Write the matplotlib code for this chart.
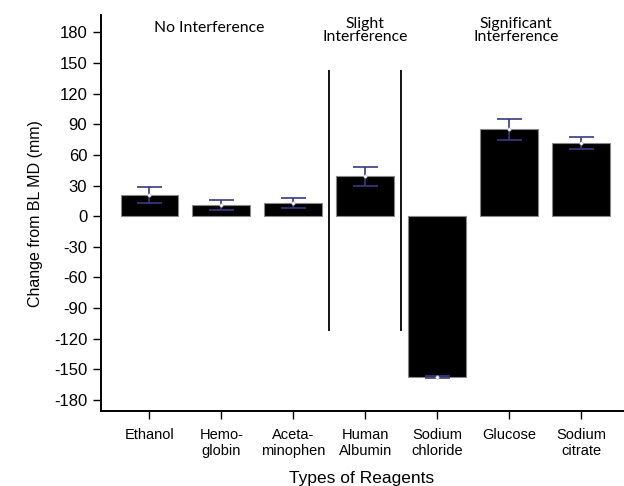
import numpy as np
import matplotlib.pyplot as plt

categories = ['Ethanol', 'Hemo-\nglobin', 'Aceta-\nminophen', 'Human\nAlbumin',
              'Sodium\nchloride', 'Glucose', 'Sodium\ncitrate']
means = [21, 11, 13, 39, -157.5, 85, 72]
errors = [8, 4.5, 5, 9.5, 1.2, 10, 6]
yticks = list(range(-180, 181, 30))

plt.rcParams['font.family'] = ['Liberation Sans', 'DejaVu Sans']
plt.rcParams['axes.unicode_minus'] = False

fig = plt.figure(figsize=(6.24, 4.86), dpi=100)
ax = fig.add_axes([0.162, 0.154, 0.836, 0.815])

x = np.arange(len(categories))
ax.bar(x, means, width=0.8, color='black', edgecolor='#888888', linewidth=0.8, zorder=2)
ax.errorbar(x, means, yerr=errors, fmt='none', ecolor='#3a3a85', elinewidth=1.2,
            capsize=9, capthick=1.2, zorder=3)
ax.scatter(x, means, s=6, color='white', edgecolors='#aaaaaa', linewidths=0.4, zorder=4)

# group separators
ax.vlines([2.5, 3.5], -112.5, 143, color='black', linewidth=1.3)

ax.set_xlim(-0.67, 6.58)
ax.set_ylim(-191, 197)
ax.set_yticks(yticks)
ax.set_xticks(x)
ax.set_xticklabels(categories, fontsize=10.5)
ax.tick_params(axis='y', labelsize=12, length=6, width=1.0, pad=4)
ax.tick_params(axis='x', length=6, width=1.0, pad=6)

for s in ['top', 'right']:
    ax.spines[s].set_visible(False)
for s in ['left', 'bottom']:
    ax.spines[s].set_linewidth(1.4)

ax.set_ylabel('Change from BL MD (mm)', fontsize=11.5, labelpad=8)
ax.set_xlabel('Types of Reagents', fontsize=12.5, labelpad=9)

ann = dict(fontsize=11.3, family=['Lato', 'DejaVu Sans'], ha='center',
           va='center', linespacing=0.95)
ax.text(0.83, 184, 'No Interference', **ann)
ax.text(3.0, 182, 'Slight\nInterference', **ann)
ax.text(5.1, 182, 'Significant\nInterference', **ann)

fig.savefig('out.png', dpi=100)
